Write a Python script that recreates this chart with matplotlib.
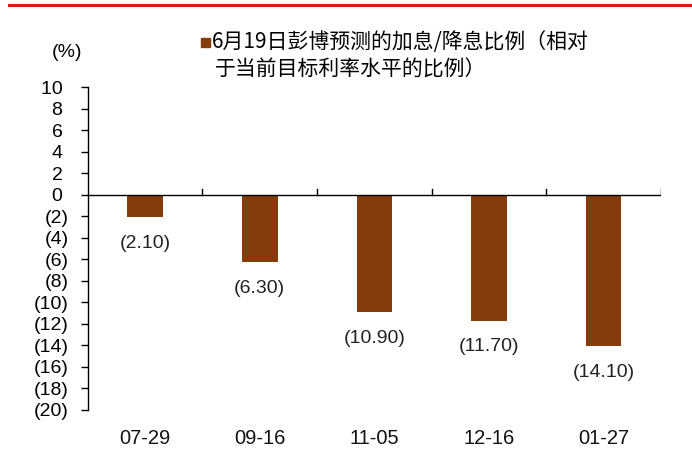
import matplotlib.pyplot as plt
from matplotlib.lines import Line2D
from matplotlib.patches import Rectangle

plt.rcParams['font.family'] = ['Liberation Sans', 'Noto Sans CJK SC', 'DejaVu Sans']

dates = ['07-29', '09-16', '11-05', '12-16', '01-27']
hike_cut_pct = [-2.10, -6.30, -10.90, -11.70, -14.10]
y_ticks = list(range(10, -21, -2))
legend_lines = ['6月19日彭博预测的加息/降息比例（相对', '于当前目标利率水平的比例）']

BAR_COLOR = '#843C0C'
CJK = ['Noto Sans CJK SC', 'DejaVu Sans']


def fmt_tick(v):
    # accounting style: negatives in brackets, positives padded to line up
    return f'({abs(v)})' if v < 0 else f'{v} '


def fmt_value(v):
    return f'({abs(v):.2f})' if v < 0 else f'{v:.2f}'


fig = plt.figure(figsize=(6.92, 4.58), dpi=100)
ax = fig.add_axes([0.127, 0.105, 0.828, 0.705])

x = range(len(dates))
ax.bar(x, hike_cut_pct, width=0.31, color=BAR_COLOR, zorder=2)

for xi, v in zip(x, hike_cut_pct):
    ax.annotate(fmt_value(v), (xi, v), xytext=(0, -19), textcoords='offset points',
                ha='center', va='center', fontsize=14, color='#222222')

ax.set_xlim(-0.5, len(dates) - 0.5)
ax.set_ylim(-20, 10)
ax.set_yticks(y_ticks)
ax.set_yticklabels([fmt_tick(v) for v in y_ticks], fontsize=14)
ax.tick_params(axis='y', direction='out', length=5, width=1, pad=9)

# category labels sit at the bottom; the category dividers hang on the zero line
ax.set_xticks([])
for xi, d in zip(x, dates):
    ax.text(xi, -0.087, d, transform=ax.get_xaxis_transform(), ha='center',
            va='center', fontsize=14.5, color='#111111')
for b in [i + 0.5 for i in x]:
    ax.plot([b, b], [0, 0.55], color='black', lw=1, zorder=3)
ax.axhline(0, color='black', lw=1, zorder=3)

for s in ['top', 'right', 'bottom']:
    ax.spines[s].set_visible(False)
ax.spines['left'].set_linewidth(1)

fig.text(0.097, 0.886, '(%)', ha='center', va='center', fontsize=14)

# legend
fig.patches.append(Rectangle((0.290, 0.897), 0.013, 0.0197, transform=fig.transFigure,
                             color=BAR_COLOR))
fig.text(0.306, 0.908, legend_lines[0], ha='left', va='center', fontsize=15, family=CJK)
fig.text(0.310, 0.847, legend_lines[1], ha='left', va='center', fontsize=15, family=CJK)

# red rule along the top
fig.add_artist(Line2D([0.013, 0.999], [0.989, 0.989], color='#E3170D', lw=2.2,
                      transform=fig.transFigure))

fig.savefig('out.png', dpi=100)
